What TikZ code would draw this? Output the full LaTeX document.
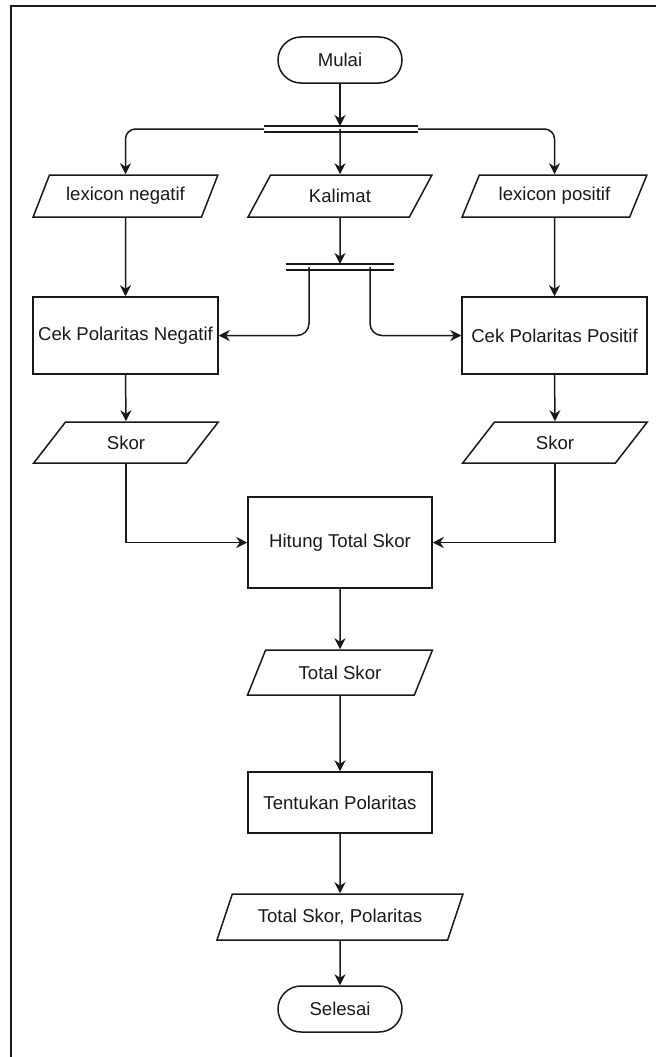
\documentclass[tikz,border=0pt]{standalone}
\usepackage{fontspec}
\setmainfont{Liberation Sans}
\usetikzlibrary{shapes.geometric,arrows.meta}
\begin{document}
\begin{tikzpicture}[x=1pt,y=-1pt,
  line/.style={draw=black!90, line width=1.5pt},
  arr/.style={line, -{Stealth[length=11pt,width=11pt,inset=3.5pt]}},
  base/.style={draw=black!90, line width=1.5pt, text=black!90,
    font=\fontsize{18.6}{22}\selectfont, inner sep=0pt},
  terminal/.style={base, rectangle, rounded corners=23pt,
    minimum width=124pt, minimum height=46pt},
  process/.style={base, rectangle, minimum width=184pt},
  io/.style={base, trapezium, trapezium left angle=53.6,
    trapezium right angle=126.4, trapezium stretches=true,
    minimum width=185pt, minimum height=42pt}
]
\useasboundingbox (0,0) rectangle (656,1057);
% frame
\draw[draw=black!90, line width=1.7pt] (11,1057) -- (11,6) -- (656,6);

% nodes
\node[terminal] (mulai) at (340,60) {Mulai};
\node[io] (lexneg) at (125.5,196) {lexicon negatif};
\node[io] (kal) at (340,196) {Kalimat};
\node[io] (lexpos) at (554.5,196) {lexicon positif};
\node[process, minimum width=185pt, minimum height=77pt] (cekneg) at (125.5,335.5) {Cek Polaritas Negatif};
\node[process, minimum width=185pt, minimum height=77pt] (cekpos) at (554.5,335.5) {Cek Polaritas Positif};
\node[io, minimum height=41pt] (skorneg) at (126,442.5) {Skor};
\node[io, minimum height=41pt] (skorpos) at (555,442.5) {Skor};
\node[process, minimum height=91pt] (hitung) at (340,542.5) {Hitung Total Skor};
\node[io, minimum height=45pt] (total) at (340,672.5) {Total Skor};
\node[process, minimum height=61pt] (tentukan) at (340,802.5) {Tentukan Polaritas};
\node[io, minimum width=246pt, minimum height=46pt] (totpol) at (340,917) {Total Skor, Polaritas};
\node[terminal] (selesai) at (340,1009) {Selesai};

% fork bars
\coordinate (b1n) at (340,126);
\coordinate (b1c) at (340,129);
\coordinate (b1w) at (264,129);
\coordinate (b1e) at (418,129);
\draw[line] (264,126) -- (418,126) (264,132) -- (418,132);
\coordinate (b2n) at (340,264);
\coordinate (b2l) at (309,267);
\coordinate (b2r) at (370,267);
\draw[line] (286,264) -- (394,264) (286,270) -- (394,270);

% connectors
\draw[arr] (mulai.south) -- (b1n);
\draw[arr] (b1c) -- (kal.north);
\draw[arr, rounded corners=10pt] (b1w) -| (lexneg.north);
\draw[arr, rounded corners=10pt] (b1e) -| (lexpos.north);
\draw[arr] (lexneg.south) -- (cekneg.north);
\draw[arr] (lexpos.south) -- (cekpos.north);
\draw[arr] (kal.south) -- (b2n);
\draw[arr, rounded corners=12pt] (b2l) |- (cekneg.east);
\draw[arr, rounded corners=12pt] (b2r) |- (cekpos.west);
\draw[arr] (cekneg.south) -- (skorneg.north);
\draw[arr] (cekpos.south) -- (skorpos.north);
\draw[arr] (skorneg.south) |- (hitung.west);
\draw[arr] (skorpos.south) |- (hitung.east);
\draw[arr] (hitung.south) -- (total.north);
\draw[arr] (total.south) -- (tentukan.north);
\draw[arr] (tentukan.south) -- (totpol.north);
\draw[arr] (totpol.south) -- (selesai.north);
\end{tikzpicture}
\end{document}
